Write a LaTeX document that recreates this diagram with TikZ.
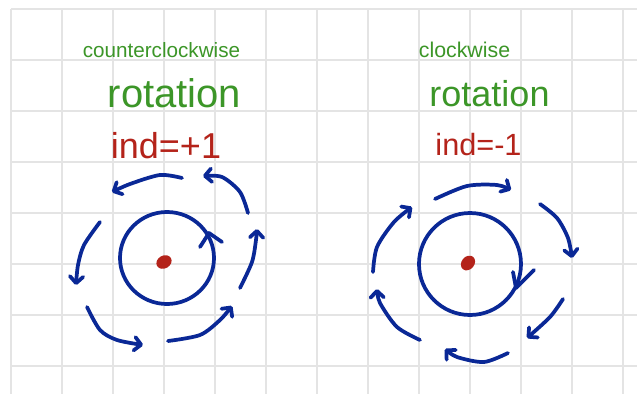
\documentclass[tikz,border=0pt]{standalone}
\usepackage{fontspec}
\setmainfont{Liberation Sans}
\usetikzlibrary{arrows.meta}
\definecolor{gridc}{HTML}{E4E4E4}
\definecolor{pgreen}{HTML}{3C9628}
\definecolor{pred}{HTML}{B4231A}
\definecolor{pblue}{HTML}{0A2896}
\tikzset{
  ink/.style={draw=pblue, line width=2.8pt, line cap=round, line join=round},
  arr/.style={ink, -{Straight Barb[length=5pt,width=10pt,line cap=round,line join=round]}},
  lbl/.style={inner sep=0pt, anchor=base},
}
\begin{document}
\begin{tikzpicture}[x=0.75pt,y=-0.75pt]
\useasboundingbox (0,0) rectangle (637,394);
\fill[white] (0,0) rectangle (637,394);
% grid
\foreach \gx in {11,62,...,623} \draw[gridc, line width=1.6pt] (\gx,9) -- (\gx,394);
\foreach \gy in {9,60,...,366} \draw[gridc, line width=1.6pt] (11,\gy) -- (637,\gy);
% texts
\node[lbl, text=pgreen, font=\fontsize{15.5}{16}\selectfont] (t1) at (161.5,57) {counterclockwise};
\node[lbl, text=pgreen, font=\fontsize{30}{32}\selectfont] (t2) at (174.5,107) {rotation};
\node[lbl, text=pred, font=\fontsize{27}{29}\selectfont] (t3) at (166,158) {ind=+1};
\node[lbl, text=pgreen, font=\fontsize{16}{17}\selectfont] (t4) at (464.5,57) {clockwise};
\node[lbl, text=pgreen, font=\fontsize{27}{29}\selectfont] (t5) at (489.5,106) {rotation};
\node[lbl, text=pred, font=\fontsize{23}{25}\selectfont] (t6) at (478.5,155) {ind=-1};
% left: counterclockwise
\fill[pred] (164,262) ellipse [x radius=6pt, y radius=4.8pt, rotate=30];
\draw[ink] (167,258) ellipse [x radius=35.25pt, y radius=34.5pt];
\draw[ink] (200,247) -- (209,233) -- (222,242);
\draw[arr] plot[smooth] coordinates {(182,178) (160,175) (130,184) (112,192)};
\draw[arr] plot[smooth] coordinates {(100,222) (84,245) (78,265) (76,285)};
\draw[arr] plot[smooth] coordinates {(87,307) (100,330) (117,340) (143,345)};
\draw[arr] plot[smooth] coordinates {(168,341) (200,335) (220,320) (232,306)};
\draw[arr] plot[smooth] coordinates {(240,288) (252,262) (256,240) (257,229)};
\draw[arr] plot[smooth] coordinates {(248,213) (240,192) (222,177) (203,176)};
% right: clockwise
\fill[pred] (468,263) ellipse [x radius=6pt, y radius=4.8pt, rotate=50];
\draw[ink] (470,264) ellipse [x radius=38.25pt, y radius=38.25pt];
\draw[ink] (513,272) -- (516,288) -- (534,270);
\draw[arr] plot[smooth] coordinates {(435,199) (467,186) (497,185) (511,190)};
\draw[arr] plot[smooth] coordinates {(540,204) (557,218) (568,238) (572,258)};
\draw[arr] plot[smooth] coordinates {(563,299) (550,317) (527,338)};
\draw[arr] plot[smooth] coordinates {(508,353) (484,362) (457,357) (445,349)};
\draw[arr] plot[smooth] coordinates {(420,340) (397,327) (380,303) (377,289)};
\draw[arr] plot[smooth] coordinates {(373,272) (377,247) (394,222) (412,207)};
\end{tikzpicture}
\end{document}
